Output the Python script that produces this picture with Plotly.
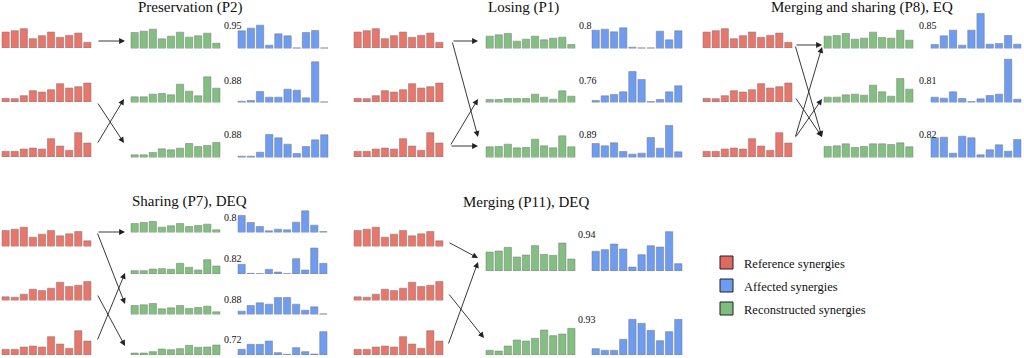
import plotly.graph_objects as go

W, H = 1024, 358

# ---------------- data (bar heights, arbitrary units) ----------------
bar_index = list(range(10))

ref_1 = [0.48, 0.52, 0.58, 0.28, 0.37, 0.48, 0.32, 0.38, 0.45, 0.17]
ref_2 = [0.11, 0.10, 0.19, 0.34, 0.30, 0.37, 0.55, 0.42, 0.46, 0.57]
ref_3 = [0.17, 0.17, 0.24, 0.27, 0.24, 0.55, 0.33, 0.20, 0.73, 0.42]

# Preservation (P2)
p2_recon_1 = [0.48, 0.52, 0.58, 0.29, 0.37, 0.49, 0.34, 0.38, 0.46, 0.16]
p2_recon_2 = [0.17, 0.17, 0.25, 0.27, 0.23, 0.55, 0.34, 0.20, 0.77, 0.43]
p2_recon_3 = [0.08, 0.08, 0.15, 0.26, 0.23, 0.28, 0.42, 0.33, 0.36, 0.45]
p2_aff_1 = [0.53, 0.61, 0.70, 0.10, 0.44, 0.38, 0.02, 0.48, 0.54, 0.02]
p2_aff_2 = [0.04, 0.06, 0.33, 0.16, 0.16, 0.40, 0.37, 0.14, 1.22, 0.02]
p2_aff_3 = [0.04, 0.04, 0.16, 0.69, 0.59, 0.40, 0.12, 0.33, 0.53, 0.68]
p2_sim = ["0.95", "0.88", "0.88"]

# Losing (P1)
p1_recon_1 = [0.37, 0.41, 0.45, 0.22, 0.28, 0.37, 0.26, 0.31, 0.34, 0.12]
p1_recon_2 = [0.09, 0.09, 0.12, 0.12, 0.12, 0.25, 0.16, 0.10, 0.35, 0.19]
p1_recon_3 = [0.32, 0.33, 0.40, 0.29, 0.30, 0.55, 0.35, 0.29, 0.65, 0.32]
p1_aff_1 = [0.55, 0.58, 0.50, 0.62, 0.04, 0.02, 0.02, 0.52, 0.26, 0.53]
p1_aff_2 = [0.06, 0.20, 0.24, 0.32, 0.93, 0.69, 0.03, 0.09, 0.32, 0.50]
p1_aff_3 = [0.42, 0.35, 0.44, 0.18, 0.10, 0.13, 0.60, 0.28, 0.96, 0.17]
p1_sim = ["0.8", "0.76", "0.89"]

# Merging and sharing (P8), EQ
p8_recon_1 = [0.37, 0.39, 0.45, 0.28, 0.31, 0.49, 0.33, 0.31, 0.55, 0.25]
p8_recon_2 = [0.16, 0.16, 0.23, 0.25, 0.22, 0.52, 0.32, 0.19, 0.72, 0.40]
p8_recon_3 = [0.33, 0.35, 0.41, 0.30, 0.33, 0.41, 0.41, 0.39, 0.44, 0.32]
p8_aff_1 = [0.12, 0.38, 0.55, 0.10, 0.55, 1.05, 0.13, 0.15, 0.39, 0.13]
p8_aff_2 = [0.16, 0.13, 0.32, 0.12, 0.03, 0.11, 0.21, 0.25, 1.30, 0.10]
p8_aff_3 = [0.59, 0.61, 0.13, 0.64, 0.59, 0.08, 0.23, 0.38, 0.19, 0.54]
p8_sim = ["0.85", "0.81", "0.82"]

# Sharing (P7), DEQ
p7_recon_1 = [0.27, 0.30, 0.33, 0.16, 0.20, 0.27, 0.18, 0.21, 0.25, 0.08]
p7_recon_2 = [0.10, 0.10, 0.15, 0.16, 0.14, 0.32, 0.20, 0.12, 0.43, 0.24]
p7_recon_3 = [0.27, 0.29, 0.33, 0.17, 0.20, 0.27, 0.18, 0.21, 0.25, 0.08]
p7_recon_4 = [0.06, 0.06, 0.10, 0.18, 0.16, 0.19, 0.29, 0.23, 0.24, 0.30]
p7_aff_1 = [0.51, 0.30, 0.18, 0.05, 0.10, 0.08, 0.31, 0.65, 0.22, 0.03]
p7_aff_2 = [0.29, 0.02, 0.01, 0.14, 0.06, 0.01, 0.46, 0.12, 0.78, 0.32]
p7_aff_3 = [0.10, 0.27, 0.35, 0.31, 0.51, 0.51, 0.31, 0.13, 0.23, 0.02]
p7_aff_4 = [0.17, 0.32, 0.32, 0.42, 0.07, 0.02, 0.22, 0.10, 0.03, 0.70]
p7_sim = ["0.8", "0.82", "0.88", "0.72"]

# Merging (P11), DEQ
p11_recon_1 = [0.57, 0.60, 0.71, 0.42, 0.48, 0.76, 0.50, 0.47, 0.84, 0.36]
p11_recon_2 = [0.14, 0.12, 0.27, 0.45, 0.42, 0.50, 0.75, 0.58, 0.63, 0.80]
p11_aff_1 = [0.59, 0.64, 0.81, 0.66, 0.12, 0.49, 0.76, 0.72, 1.18, 0.22]
p11_aff_2 = [0.19, 0.14, 0.14, 0.47, 1.07, 0.95, 0.74, 0.43, 0.70, 1.07]
p11_sim = ["0.94", "0.93"]

panel_titles = ["Preservation (P2)", "Losing (P1)", "Merging and sharing (P8), EQ",
                "Sharing (P7), DEQ", "Merging (P11), DEQ"]
legend_labels = ["Reference synergies", "Affected synergies", "Reconstructed synergies"]

# ---------------- styles ----------------
RED = "#E8766B"
BLUE = "#6E9CF0"
GREEN = "#82BF80"
EDGE = "rgba(120,120,120,0.5)"
FONT = "Liberation Serif"
PX_PER_UNIT = 100 / 3.0
DOM_H = 46

fig = go.Figure()
layout = {}
n = [0]


def py(v):
    return 1 - v / H


def add_chart(values, color, x0, x1, base):
    n[0] += 1
    i = n[0]
    sfx = "" if i == 1 else str(i)
    fig.add_trace(go.Bar(
        x=bar_index, y=values, xaxis="x" + sfx, yaxis="y" + sfx,
        marker=dict(color=color, line=dict(color=EDGE, width=1)),
        showlegend=False, hoverinfo="skip"))
    span = (x1 - x0) / 0.98
    left = x0 - 0.01 * span
    layout["xaxis" + sfx] = dict(domain=[left / W, (left + span) / W], range=[-0.5, 9.5],
                                 visible=False, anchor="y" + sfx, fixedrange=True)
    layout["yaxis" + sfx] = dict(domain=[py(base), py(base - DOM_H)],
                                 range=[0, DOM_H / PX_PER_UNIT],
                                 visible=False, anchor="x" + sfx, fixedrange=True)


annotations = []


def add_text(txt, x, y, size=10, anchor="left"):
    annotations.append(dict(text=txt, x=x / W, y=py(y), xref="paper", yref="paper",
                            xanchor=anchor, yanchor="middle", showarrow=False,
                            font=dict(family=FONT, size=size, color="#111")))


def add_arrow(tx, ty, hx, hy):
    annotations.append(dict(text="", x=hx / W, y=py(hy), xref="paper", yref="paper",
                            ax=tx - hx, ay=ty - hy, showarrow=True,
                            arrowhead=2, arrowsize=1.3, arrowwidth=0.9,
                            arrowcolor="#222", standoff=0, startstandoff=0))


# ---- top row panels ----
top_red_base = [48, 102, 157]
top_rb_base = [48.5, 102.5, 157.5]
refs = [ref_1, ref_2, ref_3]

panels_top = [
    (2, 131, 238, [p2_recon_1, p2_recon_2, p2_recon_3], [p2_aff_1, p2_aff_2, p2_aff_3], p2_sim, 222),
    (354, 486, 592, [p1_recon_1, p1_recon_2, p1_recon_3], [p1_aff_1, p1_aff_2, p1_aff_3], p1_sim, 577),
    (703, 824, 931, [p8_recon_1, p8_recon_2, p8_recon_3], [p8_aff_1, p8_aff_2, p8_aff_3], p8_sim, 917),
]
sim_y_top = [26, 80, 134]
for rx, gx, bx, recs, affs, sims, sx in panels_top:
    for k in range(3):
        add_chart(refs[k], RED, rx, rx + 89, top_red_base[k])
        add_chart(recs[k], GREEN, gx, gx + 89, top_rb_base[k])
        add_chart(affs[k], BLUE, bx, bx + 90, top_rb_base[k])
        add_text(sims[k], sx, sim_y_top[k])

# ---- Sharing (P7) ----
bot_red_base = [246.5, 300.5, 355]
p7_base = [232.5, 274, 314.5, 355]
p7_recs = [p7_recon_1, p7_recon_2, p7_recon_3, p7_recon_4]
p7_affs = [p7_aff_1, p7_aff_2, p7_aff_3, p7_aff_4]
p7_sim_y = [217, 258, 299, 339]
for k in range(3):
    add_chart(refs[k], RED, 2, 91, bot_red_base[k])
for k in range(4):
    add_chart(p7_recs[k], GREEN, 131, 220, p7_base[k])
    add_chart(p7_affs[k], BLUE, 238, 327, p7_base[k])
    add_text(p7_sim[k], 222, p7_sim_y[k])

# ---- Merging (P11) ----
p11_base = [271, 355]
p11_recs = [p11_recon_1, p11_recon_2]
p11_affs = [p11_aff_1, p11_aff_2]
p11_sim_y = [235, 319]
for k in range(3):
    add_chart(refs[k], RED, 354, 443, bot_red_base[k])
for k in range(2):
    add_chart(p11_recs[k], GREEN, 486, 575, p11_base[k])
    add_chart(p11_affs[k], BLUE, 592, 682, p11_base[k])
    add_text(p11_sim[k], 576, p11_sim_y[k])

# ---- titles ----
title_pos = [(190, 8), (523, 8), (862, 8), (189, 201), (526, 202)]
for t, (x, y) in zip(panel_titles, title_pos):
    add_text(t, x, y, size=15, anchor="center")

# ---- arrows (tail -> head) ----
arrows = [
    # P2
    (97, 41, 125, 41), (97, 102, 124, 143), (97, 144, 124, 99),
    # P1
    (452, 41, 478, 41), (452, 41, 478, 137), (450, 146, 478, 146), (450, 146, 478, 99),
    # P8
    (795, 45, 822, 45), (795, 45, 822, 137), (795, 97, 822, 137),
    (795, 138, 822, 47), (795, 138, 822, 99),
    # P7
    (97, 232, 125, 232), (97, 232, 125, 304), (97, 341, 125, 273), (97, 294, 125, 346),
    # P11
    (448, 242, 478, 258), (448, 345, 478, 262), (448, 293, 484, 338),
]
for a in arrows:
    add_arrow(*a)

# ---- legend ----
shapes = []
leg_colors = ["#E2695F", "#6E9CF0", "#7FBD7E"]
leg_y = [262.5, 285.5, 308.5]
for lab, col, y in zip(legend_labels, leg_colors, leg_y):
    shapes.append(dict(type="rect", xref="paper", yref="paper",
                       x0=720 / W, x1=733 / W, y0=py(y + 6.5), y1=py(y - 6.5),
                       fillcolor=col, line=dict(color="#222", width=1)))
    add_text(lab, 742, y + 1.5, size=12.5)

fig.update_layout(**layout)
fig.update_layout(width=W, height=H, autosize=False,
                  margin=dict(l=0, r=0, t=0, b=0, pad=0),
                  paper_bgcolor="white", plot_bgcolor="rgba(0,0,0,0)",
                  bargap=0.2, showlegend=False, hovermode=False,
                  annotations=annotations, shapes=shapes)
fig.write_html("out.html", config={"displayModeBar": False, "staticPlot": True},
               post_script="document.body.style.margin='0px';document.body.style.overflow='hidden';")
